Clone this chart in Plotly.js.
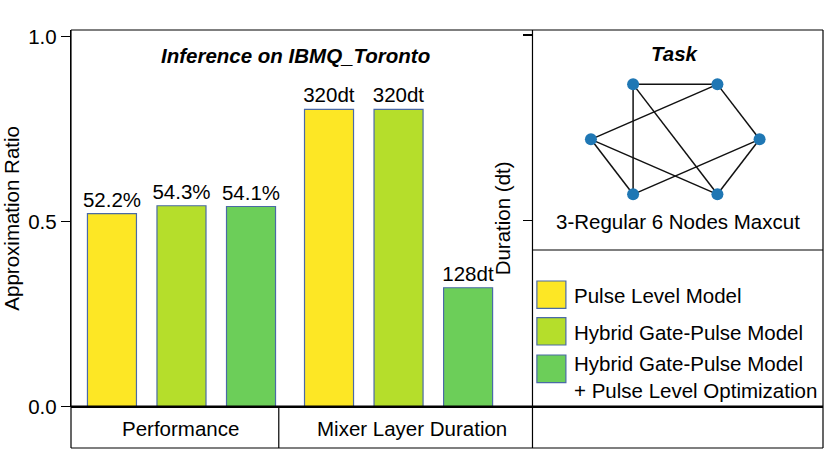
<!DOCTYPE html>
<html>
<head>
<meta charset="utf-8">
<script src="https://cdn.plot.ly/plotly-3.0.1.min.js"></script>
<style>html,body{margin:0;padding:0;background:#fff;}#chart{width:830px;height:467px;}</style>
</head>
<body>
<div id="chart"></div>
<script>
// ---------- data ----------
const groups = ["Performance", "Mixer Layer Duration"];
const modelNames = ["Pulse Level Model", "Hybrid Gate-Pulse Model", "Hybrid Gate-Pulse Model<br>+ Pulse Level Optimization"];
const approxRatio = [0.522, 0.543, 0.541];      // Performance (approximation ratio)
const mixerDuration = [320, 320, 128];          // Mixer layer duration (dt)
const yTickVals = [0, 0.5, 1.0];
const yTickText = ["0.0", "0.5", "1.0"];
const durTickVals = [0, 200, 400];
// task graph: 3-regular graph on 6 nodes (hexagon layout)
const nodeX = [1, 0.5, -0.5, -1, -0.5, 0.5];
const nodeY = [0, 0.866, 0.866, 0, -0.866, -0.866];
const edges = [[2,1],[2,4],[2,5],[1,3],[1,0],[3,4],[3,5],[0,4],[0,5]];

// ---------- style ----------
const colors = ["#FDE725", "#B5DE2B", "#6CCE59"];
const edgeCol = "#4a6aa6";
const FONT = "Liberation Sans, Arial, Helvetica, sans-serif";
const FS = 20.5;

// pixel -> paper helpers (plot area spans x 71..822.7, y 30..448)
const L = 71, R = 822.7, T = 30, B = 448;
const px = x => (x - L) / (R - L);
const py = y => (B - y) / (B - T);

const traces = [];
for (let i = 0; i < 3; i++) {
  traces.push({
    type: "bar", name: modelNames[i], x: [groups[0]], y: [approxRatio[i]],
    xaxis: "x", yaxis: "y",
    marker: {color: colors[i], line: {color: edgeCol, width: 1.2}},
    texttemplate: "%{y:.1%}", textposition: "outside", constraintext: "none",
    textfont: {family: FONT, size: FS, color: "#000"}, cliponaxis: false,
    showlegend: false, hoverinfo: "skip"
  });
}
for (let i = 0; i < 3; i++) {
  traces.push({
    type: "bar", name: modelNames[i], x: [groups[1]], y: [mixerDuration[i]],
    xaxis: "x", yaxis: "y2",
    marker: {color: colors[i], line: {color: edgeCol, width: 1.2}},
    texttemplate: "%{y}dt", textposition: "outside", constraintext: "none",
    textfont: {family: FONT, size: FS, color: "#000"}, cliponaxis: false,
    showlegend: false, hoverinfo: "skip"
  });
}
// graph edges
const ex = [], ey = [];
edges.forEach(([a, b]) => { ex.push(nodeX[a], nodeX[b], null); ey.push(nodeY[a], nodeY[b], null); });
traces.push({type: "scatter", mode: "lines", x: ex, y: ey, xaxis: "x3", yaxis: "y3",
  line: {color: "#111", width: 1.5}, showlegend: false, hoverinfo: "skip"});
traces.push({type: "scatter", mode: "markers", x: nodeX, y: nodeY, xaxis: "x3", yaxis: "y3",
  marker: {color: "#1f77b4", size: 12}, showlegend: false, hoverinfo: "skip"});

// ---------- shapes ----------
const line = (x0, y0, x1, y1, w) => ({type: "line", xref: "paper", yref: "paper",
  x0: px(x0), y0: py(y0), x1: px(x1), y1: py(y1), line: {color: "#000", width: w || 1.2}});
const shapes = [
  line(71, 30, 822.7, 30),          // top border
  line(71, 30, 71, 448),            // left edge
  line(532.3, 30, 532.3, 448),      // right panel left
  line(822.7, 30, 822.7, 448),      // right panel right
  line(532.3, 250, 822.7, 250),     // right panel divider
  line(71, 406.7, 822.7, 406.7, 2.5), // baseline
  line(71, 448, 822.7, 448),        // bottom
  line(278.7, 406.7, 278.7, 448)    // category divider
];
const swY = [[281, 308.3], [317.7, 345], [355, 382.7]];
swY.forEach((s, i) => shapes.push({type: "rect", xref: "paper", yref: "paper",
  x0: px(536.7), x1: px(565.7), y0: py(s[1]), y1: py(s[0]),
  fillcolor: colors[i], line: {color: edgeCol, width: 1.2}}));

// ---------- annotations ----------
const ann = (text, x, y, opts) => Object.assign({text, xref: "paper", yref: "paper",
  x: px(x), y: py(y), showarrow: false, font: {family: FONT, size: FS, color: "#000"},
  xanchor: "center", yanchor: "middle"}, opts || {});
const annotations = [
  ann("<b><i>Inference on IBMQ_Toronto</i></b>", 295.3, 55),
  ann("<b><i>Task</i></b>", 675, 54),
  ann("3-Regular 6 Nodes Maxcut", 677.5, 222),
  ann(groups[0], 180.5, 428),
  ann(groups[1], 411.5, 428)
];
const legY = [295, 332, 377];
modelNames.forEach((n, i) => annotations.push(ann(n, 572, legY[i], {xanchor: "left", align: "left"})));

const layout = {
  width: 830, height: 467,
  margin: {l: L, r: 830 - R, t: T, b: 467 - B},
  paper_bgcolor: "#fff", plot_bgcolor: "rgba(0,0,0,0)",
  font: {family: FONT, size: FS, color: "#000"},
  barmode: "group", bargap: 0.039, bargroupgap: 0.295,
  showlegend: false,
  xaxis: {domain: [0, px(532.3)], type: "category", range: [-0.509, 1.617],
    showticklabels: false, ticks: "", showgrid: false, zeroline: false, showline: false, fixedrange: true},
  yaxis: {domain: [py(406.7), 1], range: [0, 1.018], tickvals: yTickVals, ticktext: yTickText,
    ticks: "outside", ticklen: 9, tickwidth: 1.2, tickcolor: "#000",
    tickfont: {family: FONT, size: FS}, showline: true, linecolor: "#000", linewidth: 1.2,
    showgrid: false, zeroline: false, automargin: false,
    title: {text: "Approximation Ratio", font: {family: FONT, size: FS}, standoff: 6}},
  yaxis2: {overlaying: "y", anchor: "free", position: px(532.3), side: "left",
    range: [0, 405.4], tickvals: durTickVals, showticklabels: false,
    ticks: "outside", ticklen: 9, tickwidth: 1.2, tickcolor: "#000",
    showline: false, showgrid: false, zeroline: false, automargin: false,
    title: {text: "Duration (dt)", font: {family: FONT, size: FS}, standoff: 6}},
  xaxis3: {domain: [px(532.3), 1], anchor: "y3", range: [-1.693, 1.752], visible: false, fixedrange: true},
  yaxis3: {domain: [py(250), 1], anchor: "x3", range: [-1.743, 1.722], visible: false, fixedrange: true},
  shapes, annotations
};
Plotly.newPlot("chart", traces, layout, {displayModeBar: false, staticPlot: true});
</script>
</body>
</html>
